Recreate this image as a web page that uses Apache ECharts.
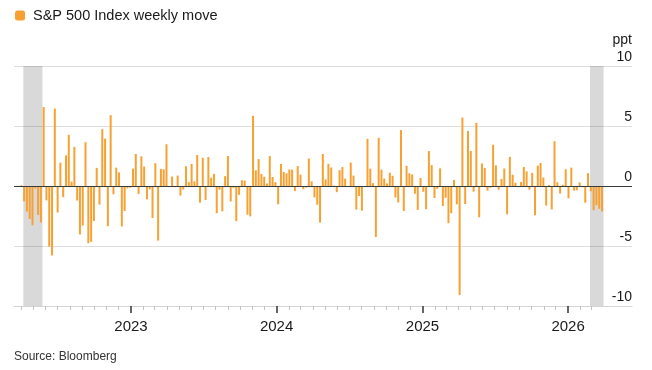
<!DOCTYPE html>
<html>
<head>
<meta charset="utf-8">
<script src="https://cdn.jsdelivr.net/npm/echarts@6/dist/echarts.min.js"></script>
<style>
html,body{margin:0;padding:0;background:#fff;}
#chart{width:652px;height:370px;}
</style>
</head>
<body>
<div id="chart"></div>
<script>
// ---- data (weekly % change of the S&P 500) ----
const seriesName = 'S&P 500 Index weekly move';
const firstWeekEnding = '2022-04-01'; // one bar per week from here on
const moves2022 = [0.06, -1.27, -2.13, -2.75, -3.27, -0.21, -2.41, -3.05, 6.58, -1.20,
  -5.05, -5.79, 6.45, -2.21, 1.94, -0.93, 2.55, 4.26, 0.36, 3.26,
  -1.21, -4.04, -3.29, 3.65, -4.77, -4.65, -2.91, 1.51, -1.55, 4.74,
  3.95, -3.35, 5.90, -0.69, 1.53, 1.13, -3.37, -2.08, -0.20, -0.14];
const moves2023 = [1.45, 2.67, -0.66, 2.47, 1.62, -1.11, -0.28, -2.67, 1.90, -4.55,
  1.43, 1.39, 3.48, -0.10, 0.79, -0.10, 0.87, -0.80, -0.29, 1.65,
  0.32, 1.83, 0.39, 2.58, -1.39, 2.35, -1.16, 2.42, 0.69, 1.01,
  -2.27, -0.31, -2.11, 0.82, 2.50, -1.29, -0.16, -2.93, -0.74, 0.48,
  0.45, -2.39, -2.53, 5.85, 1.31, 2.24, 1.00, 0.77, 0.21, 2.49,
  0.75, 0.32];
const moves2024 = [-1.52, 1.84, 1.17, 1.06, 1.38, 1.37, -0.42, 1.66, 0.95, -0.26,
  -0.13, 2.29, 0.39, -0.95, -1.56, -3.05, 2.67, 0.55, 1.85, 1.54,
  0.03, -0.51, 1.32, 1.58, 0.61, -0.08, 1.95, 0.87, -1.97, -0.83,
  -2.06, -0.04, 3.93, 1.45, 0.24, -4.25, 4.02, 1.36, 0.62, 0.22,
  1.11, 0.85, -0.96, -1.37, 4.66, -2.08, 1.68, 1.06, 0.96, -0.64,
  -1.99, 0.67];
const moves2025 = [-0.48, -1.94, 2.91, 1.74, -1.00, -0.24, 1.47, -1.66, -0.98, -3.10,
  -2.27, 0.51, -1.53, -9.08, 5.70, -1.50, 4.59, 2.92, -0.47, 5.27,
  -2.61, 1.88, 1.50, -0.39, -0.15, 3.44, 1.72, -0.31, 0.59, 1.46,
  -2.36, 2.43, 0.94, 0.27, -0.10, 0.33, 1.59, 1.22, -0.31, 1.09,
  -2.43, 1.70, 1.92, 0.71, -1.63, 0.08, -1.95, 3.73, 0.31, -0.63,
  0.10, 1.40];
const moves2026 = [-1.03, 1.53, -0.38, -0.35, 0.30, -0.10, -1.39, 1.07, -0.44, -2.02,
  -1.60, -1.90, -2.12];
const yearTickLabels = ['2023', '2024', '2025', '2026'];
const yTickValues = [-10, -5, 0, 5, 10];
// losing streaks shaded grey (first and last week of each streak)
const streakStarts = ['2022-04-08', '2026-02-27'];
const streakEnds = ['2022-05-20', '2026-03-27'];

// ---- build ----
const DAY = 86400000;
function parseDay(s) { const p = s.split('-').map(Number); return new Date(p[0], p[1] - 1, p[2]); }
const allMoves = [].concat(moves2022, moves2023, moves2024, moves2025, moves2026);
const fw = parseDay(firstWeekEnding);
const weekData = allMoves.map((v, i) =>
  [new Date(fw.getFullYear(), fw.getMonth(), fw.getDate() + 7 * i).getTime(), v]);

const yearTickValues = yearTickLabels.map(y => new Date(+y, 0, 1).getTime());
const monthTicks = [];
for (let y = 2022; y <= 2026; y++) {
  for (let m = 1; m < 12; m++) {
    const t = new Date(y, m, 1).getTime();
    if (t >= new Date(2022, 3, 1).getTime() && t <= new Date(2026, 2, 1).getTime()) monthTicks.push(t);
  }
}
const xMin = new Date(2022, 2, 13, 15).getTime();
const xMax = new Date(2026, 5, 10, 6).getTime();

const bands = streakStarts.map((s, i) => [
  { xAxis: parseDay(s).getTime() - 2 * DAY },
  { xAxis: parseDay(streakEnds[i]).getTime() + 4 * DAY }
]);

const FONT = "'Liberation Sans', Arial, Helvetica, sans-serif";
const BAR = '#f7a133';

const chart = echarts.init(document.getElementById('chart'), null, { renderer: 'canvas' });
chart.setOption({
  animation: false,
  backgroundColor: '#ffffff',
  textStyle: { fontFamily: FONT },
  legend: {
    left: 15, top: 8, padding: 0, icon: 'roundRect', itemWidth: 10, itemHeight: 10,
    selectedMode: false,
    textStyle: { fontSize: 14.5, color: '#1a1a1a', fontFamily: FONT, padding: [0, 0, 0, 3] },
    data: [seriesName]
  },
  graphic: [{
    type: 'text', left: 14, top: 351,
    style: { text: 'Source: Bloomberg', fontSize: 12, fill: '#333333', fontFamily: FONT }
  }],
  grid: { left: 14, right: 20, top: 66, bottom: 64, outerBoundsMode: 'none' },
  xAxis: [
    {
      type: 'value', min: xMin, max: xMax, position: 'bottom',
      axisLine: { show: true, onZero: false, lineStyle: { color: '#d4d4d4', width: 1 } },
      axisTick: { show: true, customValues: monthTicks, length: 4, lineStyle: { color: '#c2c2c2' } },
      axisLabel: {
        show: true, customValues: yearTickValues, margin: 13, fontSize: 15, color: '#1a1a1a',
        fontFamily: FONT, formatter: v => String(new Date(v).getFullYear())
      },
      splitLine: { show: false }
    },
    {
      type: 'value', min: xMin, max: xMax, position: 'bottom',
      axisLine: { show: false, onZero: false },
      axisTick: { show: true, customValues: yearTickValues, length: 7, lineStyle: { color: '#333333', width: 1.5 } },
      axisLabel: { show: false },
      splitLine: { show: false }
    }
  ],
  yAxis: {
    type: 'value', position: 'right', min: yTickValues[0], max: yTickValues[yTickValues.length - 1], interval: 5,
    name: 'ppt', nameLocation: 'end', nameGap: 19,
    nameTextStyle: { align: 'right', verticalAlign: 'bottom', fontSize: 14, color: '#1a1a1a', fontFamily: FONT },
    axisLine: { show: false }, axisTick: { show: false },
    axisLabel: { inside: true, margin: 0, fontSize: 14, color: '#1a1a1a', fontFamily: FONT,
      verticalAlign: 'bottom', padding: [0, 0, 2, 0] },
    splitLine: { show: true, lineStyle: { color: '#dedede', width: 1 } }
  },
  series: [{
    name: seriesName, type: 'bar', xAxisIndex: 0, data: weekData, barWidth: 2,
    itemStyle: { color: BAR },
    markArea: { silent: true, itemStyle: { color: 'rgba(0,0,0,0.15)' }, label: { show: false }, data: bands },
    markLine: {
      silent: true, symbol: ['none', 'none'], label: { show: false },
      lineStyle: { color: '#3a3a3a', width: 1, type: 'solid' },
      data: [{ yAxis: 0 }]
    }
  }]
});
</script>
</body>
</html>
